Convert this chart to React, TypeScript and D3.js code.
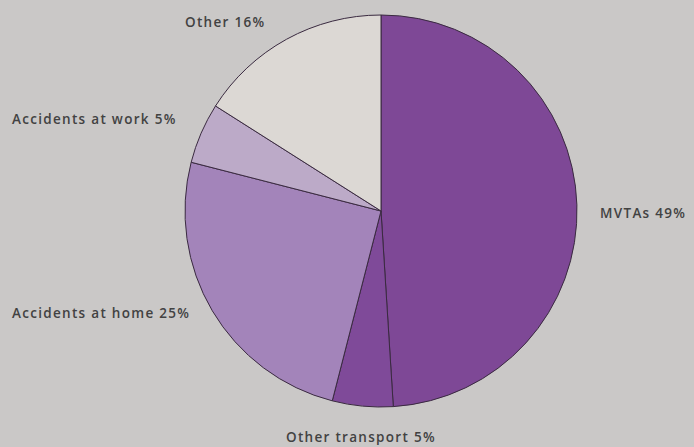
import React from "react";
import * as d3 from "d3";

const categories = ["MVTAs", "Other transport", "Accidents at home", "Accidents at work", "Other"];
const values = [49, 5, 25, 5, 16];
const colors = ["#7e4896", "#7f4a99", "#a384ba", "#bcaac8", "#dcd8d4"];
const labelPos: [number, number][] = [
  [600, 218],
  [286, 442],
  [12, 318],
  [12, 124],
  [185, 27],
];

export default function App() {
  const W = 694, H = 447;
  const cx = 381, cy = 211, r = 196;
  const pie = d3.pie<number>().sort(null).value((d) => d)(values);
  const arc = d3.arc<d3.PieArcDatum<number>>().innerRadius(0).outerRadius(r);
  return (
    <svg width={W} height={H} style={{ position: "absolute", left: 0, top: 0, background: "#cac8c7" }}>
      <rect width={W} height={H} fill="#cac8c7" />
      <g transform={`translate(${cx},${cy})`}>
        {pie.map((p, i) => (
          <path key={i} d={arc(p) || ""} fill={colors[i]} stroke="#3a2a40" strokeWidth={1} strokeLinejoin="round" />
        ))}
      </g>
      {categories.map((c, i) => (
        <text key={c} x={labelPos[i][0]} y={labelPos[i][1]} textAnchor="start"
          fontFamily="'Open Sans', Lato, sans-serif" fontSize={13.5} fontWeight={600}
          letterSpacing={1.3} fill="#424242">
          {`${c} ${values[i]}%`}
        </text>
      ))}
    </svg>
  );
}
